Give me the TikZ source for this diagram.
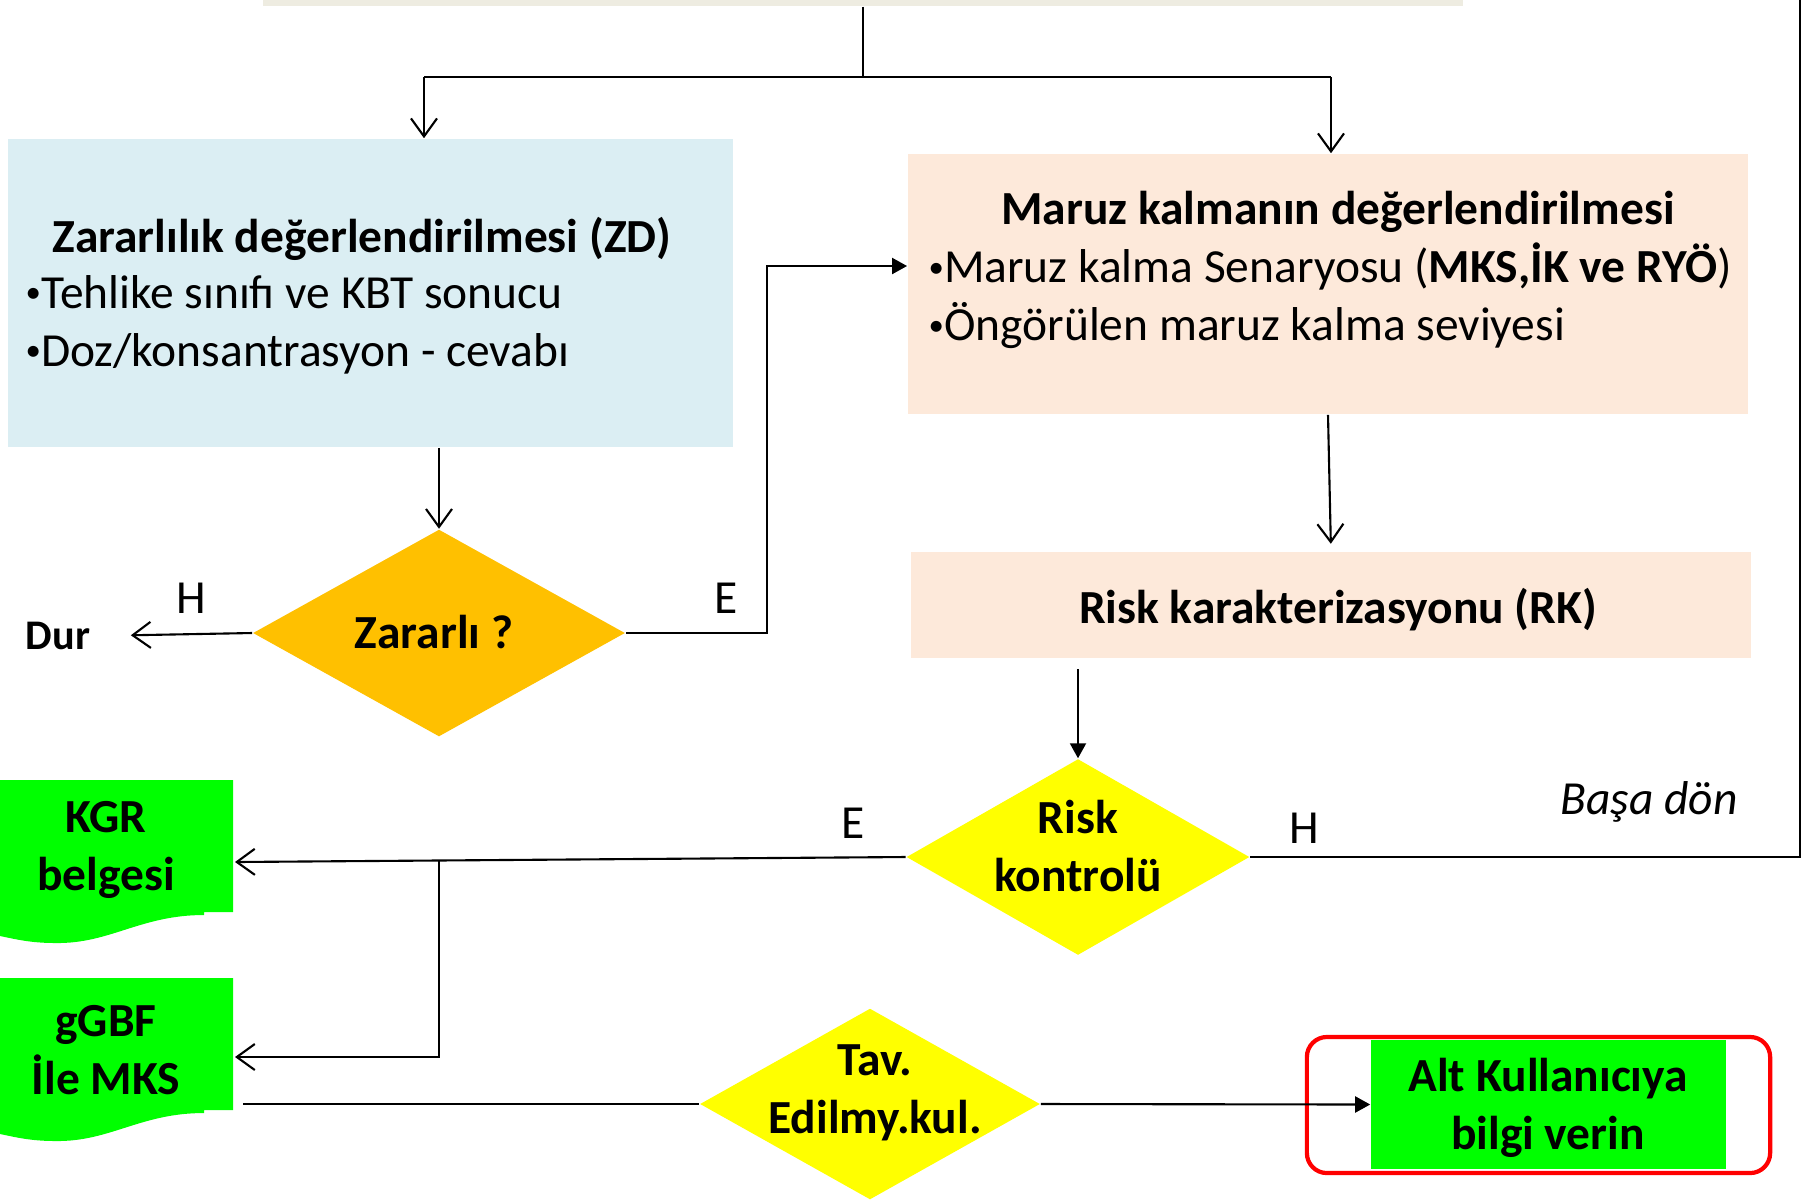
\documentclass[tikz,border=0pt]{standalone}
\usepackage{fontspec}
\usepackage{graphicx}
\setmainfont{Carlito}
\usetikzlibrary{shapes.geometric,arrows.meta}

\definecolor{topbeige}{RGB}{238,236,225}
\definecolor{zdblue}{RGB}{219,238,243}
\definecolor{expbeige}{RGB}{253,233,218}
\definecolor{qorange}{RGB}{255,192,0}
\definecolor{qyellow}{RGB}{255,255,0}
\definecolor{docgreen}{RGB}{0,255,0}

\newcommand\listdot{\raisebox{0.12em}{\scalebox{0.65}{•}}}

\tikzset{
  box/.style={rectangle, inner sep=0pt},
  decision/.style={diamond, inner sep=0pt, aspect=1.8},
  txt/.style={font=\fontsize{13.5}{16.5}\selectfont, inner sep=0pt},
  btxt/.style={font=\fontsize{13.5}{16.5}\selectfont\bfseries, align=center, inner sep=0pt},
  flow/.style={line width=0.6pt},
  openarrow/.style={flow, -{Straight Barb[length=1.8mm,width=2.6mm]}},
  filledarrow/.style={flow, -{Triangle[length=1.5mm,width=1.6mm]}}
}

\begin{document}
\begin{tikzpicture}[x=0.01cm, y=-0.01cm]
\useasboundingbox (0,0) rectangle (1812,1202);

% boxes
\node[box, fill=topbeige, minimum width=12cm, minimum height=0.72cm] (src) at (863,-30) {};
\node[box, fill=zdblue, minimum width=7.25cm, minimum height=3.08cm] (zd) at (370.5,293) {};
\node[btxt] (zdtitle) at (362,239) {Zararlılık değerlendirilmesi (ZD)};
\node[txt, anchor=west, align=left] (zdlist) at (25,325) {\listdot Tehlike sınıfı ve KBT sonucu\\\listdot Doz/konsantrasyon - cevabı};
\node[box, fill=expbeige, minimum width=8.4cm, minimum height=2.6cm] (exp) at (1328,284) {};
\node[btxt] (exptitle) at (1338,212) {Maruz kalmanın değerlendirilmesi};
\node[txt, anchor=west, align=left] (explist) at (928,296) {\listdot Maruz kalma Senaryosu (\textbf{MKS,İK ve RYÖ})\\\listdot Öngörülen maruz kalma seviyesi};
\node[box, fill=expbeige, minimum width=8.39cm, minimum height=1.05cm] (rk) at (1331,605) {};
\node[btxt] (rktxt) at (1338,610) {Risk karakterizasyonu (RK)};

% decisions
\node[decision, fill=qorange, minimum width=3.72cm, minimum height=2.07cm] (harm) at (439,633) {};
\node[btxt] (harmtxt) at (434,632) {Zararlı ?};
\node[decision, fill=qyellow, minimum width=3.43cm, minimum height=1.96cm] (risk) at (1078,857) {};
\node[btxt] (risktxt) at (1078,846) {Risk\\kontrolü};
\node[decision, fill=qyellow, minimum width=3.40cm, minimum height=1.91cm] (tav) at (870,1104) {};
\node[btxt] (tavtxt) at (875,1093) {Tav.\\Edilmy.kul.};

% documents
\fill[docgreen] (0,780) -- (233,780) -- (233,912) -- (204,912) -- (204,915) .. controls (140,915) and (110,944) .. (55,943) .. controls (30,943) and (15,939) .. (0,936) -- cycle;
\node[btxt] (kgr) at (106,850) {KGR\\belgesi};
\fill[docgreen] (0,978) -- (233,978) -- (233,1110) -- (204,1110) -- (204,1113) .. controls (140,1113) and (110,1142) .. (55,1141) .. controls (30,1141) and (15,1137) .. (0,1134) -- cycle;
\node[btxt] (ggbf) at (106,1050) {gGBF\\İle MKS};
\node[box, fill=docgreen, minimum width=3.55cm, minimum height=1.29cm] (alt) at (1548.5,1104.5) {};
\node[btxt] (alttxt) at (1548,1108) {Alt Kullanıcıya\\bilgi verin};
\node[draw=red, line width=1.2pt, rounded corners=0.2cm, minimum width=4.63cm, minimum height=1.36cm] (frame) at (1538.5,1105) {};

% labels
\node[font=\fontsize{12}{14}\selectfont\bfseries, inner sep=0pt] (dur) at (58,636) {Dur};
\node[txt] (hharm) at (191,598) {H};
\node[txt] (eharm) at (726,598) {E};
\node[txt] (erisk) at (853,823) {E};
\node[txt] (hrisk) at (1304,828) {H};
\node[txt, font=\fontsize{13.5}{16.5}\selectfont\itshape] (basa) at (1649,802) {Başa dön};

% connectors
\coordinate (split) at (863,77);
\coordinate (splitl) at (424,77);
\coordinate (splitr) at (1331,77);
\coordinate (jog) at (767,266);
\coordinate (back) at (1800,0);
\coordinate (kgrin) at (235,862);
\coordinate (br) at (439,861);
\coordinate (ggbfin) at (235,1057);
\coordinate (ggbfout) at (243,1104);

\draw[flow] (src.south) -- (split);
\draw[flow] (splitl) -- (splitr);
\draw[openarrow] (splitl) -- (splitl |- zd.north);
\draw[openarrow] (splitr) -- (splitr |- exp.north);
\draw[openarrow] (harm.north |- zd.south) -- (harm.north);
\draw[openarrow, shorten >=0.4cm] (harm.west) -- (dur.east);
\draw[filledarrow] (harm.east) -| (jog) -- (jog -| exp.west);
\draw[openarrow, shorten >=0.08cm] (exp.south) -- (rk.north);
\draw[filledarrow] ([yshift=-0.11cm]rk.south -| risk.north) -- (risk.north);
\draw[flow] (risk.east) -| (back);
\draw[openarrow] (risk.west) -- (kgrin);
\draw[openarrow] (br) |- (ggbfin);
\draw[flow] (ggbfout) -- (tav.west);
\draw[filledarrow] (tav.east) -- (alt.west);
\end{tikzpicture}
\end{document}
